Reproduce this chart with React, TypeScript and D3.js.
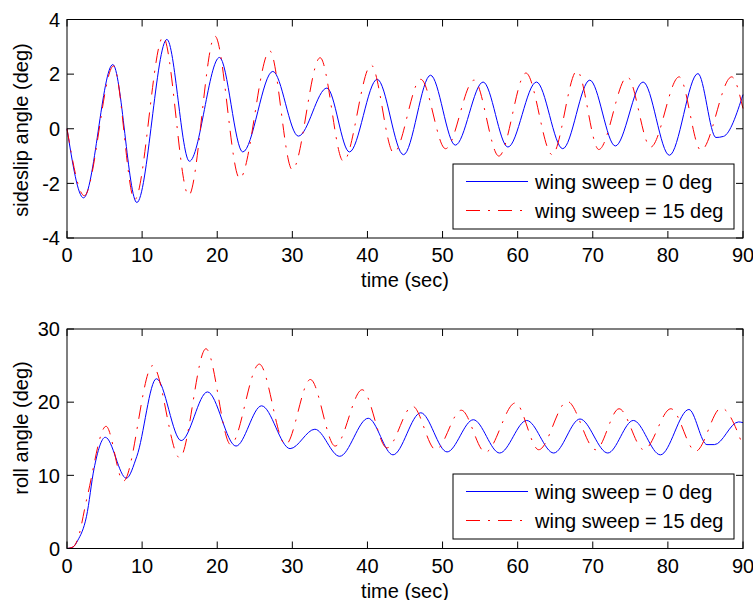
import React from 'react';
import * as d3 from 'd3';

// sideslip angle (deg), wing sweep = 0 / 15 deg, read at peaks and troughs
const betaT0 = [0, 2.2, 6.1, 9.3, 13.3, 16.3, 20.3, 23.4, 27.4, 30.8, 34.6, 37.6, 41.3, 44.8, 48.4, 51.7, 55.4, 58.7, 62.5, 66.0, 69.6, 73.0, 76.7, 80.2, 84.0, 86.4, 87.4, 90];
const beta0 = [0, -2.53, 2.35, -2.7, 3.27, -1.19, 2.61, -0.85, 2.1, -0.27, 1.49, -0.85, 1.81, -0.95, 1.96, -0.6, 1.71, -0.67, 1.71, -0.73, 1.78, -0.63, 1.71, -0.97, 2.02, -0.32, -0.28, 1.25];
const betaT15 = [0, 2.3, 6.2, 9.0, 12.8, 16.2, 19.7, 23.0, 27.0, 30.0, 33.7, 36.8, 40.5, 43.5, 47.1, 50.4, 54.2, 57.5, 61.1, 64.6, 67.9, 70.8, 74.6, 77.7, 81.5, 84.4, 88.5, 90];
const beta15 = [0, -2.45, 2.3, -2.6, 3.36, -2.44, 3.39, -1.82, 2.85, -1.5, 2.6, -1.19, 2.33, -0.88, 1.81, -0.73, 1.78, -1.0, 2.04, -0.95, 2.12, -0.76, 1.9, -0.67, 1.9, -0.79, 1.9, 0.74];

// roll angle (deg)
const phiT0 = [0, 0.8, 1.4, 2.6, 3.6, 5.1, 7.9, 9.3, 11.9, 15.2, 18.7, 22.5, 25.9, 29.7, 33.0, 36.3, 40.1, 43.4, 47.1, 50.6, 54.1, 57.6, 61.2, 64.8, 68.3, 72.0, 75.4, 79.0, 82.8, 85.2, 86.2, 89.4, 90];
const phi0 = [0, 0.2, 1.05, 4.4, 10.9, 15.2, 9.6, 12.6, 23.2, 14.75, 21.4, 14.0, 19.5, 13.65, 16.3, 12.6, 17.8, 12.8, 18.55, 13.2, 17.6, 13.05, 17.5, 13.05, 17.7, 13.05, 17.5, 12.8, 19.0, 14.2, 14.2, 17.3, 17.2];
const phiT15 = [0, 0.8, 1.4, 2.7, 5.2, 7.5, 11.4, 15.0, 18.5, 21.8, 25.6, 29.1, 32.4, 35.7, 39.3, 42.6, 46.0, 49.1, 52.5, 55.7, 59.7, 62.8, 66.6, 70.4, 73.5, 76.8, 80.4, 83.7, 87.1, 90];
const phi15 = [0, 0.2, 1.2, 7.1, 16.7, 9.2, 25.0, 12.4, 27.3, 14.2, 25.2, 14.2, 23.1, 14.0, 21.7, 13.75, 19.45, 13.5, 18.9, 13.15, 19.9, 13.5, 20.1, 13.5, 19.1, 13.5, 19.1, 13.3, 19.2, 14.0];

const timeTicks = [0, 10, 20, 30, 40, 50, 60, 70, 80, 90];
const betaTicks = [-4, -2, 0, 2, 4];
const phiTicks = [0, 10, 20, 30];
const legendLabels = ['wing sweep = 0 deg', 'wing sweep = 15 deg'];

const W = 753;
const H = 600;
const FONT = '"Liberation Sans", Arial, sans-serif';
const FS = 20;
const TICK = 7;
const DASHDOT = '14,8,2,8';

type PanelProps = {
  top: number;
  bottom: number;
  yDomain: [number, number];
  yTicks: number[];
  yLabel: string;
  yLabelCenter: number;
  blue: [number[], number[]];
  red: [number[], number[]];
  legendTop: number;
};

function Panel({ top, bottom, yDomain, yTicks, yLabel, yLabelCenter, blue, red, legendTop }: PanelProps) {
  const left = 67;
  const right = 743;
  const x = d3.scaleLinear().domain([0, 90]).range([left, right]);
  const y = d3.scaleLinear().domain(yDomain).range([bottom, top]);
  const line = d3
    .line<[number, number]>()
    .x((d) => x(d[0]))
    .y((d) => y(d[1]))
    .curve(d3.curveMonotoneX);
  const pts = (s: [number[], number[]]) => s[0].map((t, i) => [t, s[1][i]] as [number, number]);

  const lg = { x0: 453, x1: 734, y0: legendTop, y1: legendTop + 65 };
  const rows = [lg.y0 + 17.5, lg.y0 + 46.5];

  return (
    <g>
      <rect x={left} y={top} width={right - left} height={bottom - top} fill="#fff" />
      <path d={line(pts(blue)) || ''} fill="none" stroke="#0000ff" strokeWidth={1} />
      <path d={line(pts(red)) || ''} fill="none" stroke="#ff0000" strokeWidth={1} strokeDasharray={DASHDOT} />

      {/* ticks inward on all four sides */}
      {timeTicks.map((t) => (
        <g key={'xt' + t}>
          <line x1={x(t)} x2={x(t)} y1={bottom} y2={bottom - TICK} stroke="#000" />
          <line x1={x(t)} x2={x(t)} y1={top} y2={top + TICK} stroke="#000" />
          <text x={x(t)} y={bottom + 24} textAnchor="middle" fontSize={FS} fontFamily={FONT} fill="#000">
            {t}
          </text>
        </g>
      ))}
      {yTicks.map((v) => (
        <g key={'yt' + v}>
          <line x1={left} x2={left + TICK} y1={y(v)} y2={y(v)} stroke="#000" />
          <line x1={right} x2={right - TICK} y1={y(v)} y2={y(v)} stroke="#000" />
          <text x={60} y={y(v)} dy="0.36em" textAnchor="end" fontSize={FS} fontFamily={FONT} fill="#000">
            {v}
          </text>
        </g>
      ))}
      <rect x={left} y={top} width={right - left} height={bottom - top} fill="none" stroke="#000" strokeWidth={1} />

      <text x={(left + right) / 2} y={bottom + 49} textAnchor="middle" fontSize={FS} fontFamily={FONT} fill="#000">
        time (sec)
      </text>
      <text
        transform={`translate(28,${yLabelCenter}) rotate(-90)`}
        textAnchor="middle"
        fontSize={FS}
        fontFamily={FONT}
        fill="#000"
      >
        {yLabel}
      </text>

      {/* legend */}
      <rect x={lg.x0} y={lg.y0} width={lg.x1 - lg.x0} height={lg.y1 - lg.y0} fill="#fff" stroke="#000" strokeWidth={1} />
      <line x1={466} x2={528} y1={rows[0]} y2={rows[0]} stroke="#0000ff" strokeWidth={1} />
      <line x1={466} x2={528} y1={rows[1]} y2={rows[1]} stroke="#ff0000" strokeWidth={1} strokeDasharray={DASHDOT} />
      {legendLabels.map((l, i) => (
        <text key={l} x={535} y={rows[i]} dy="0.36em" fontSize={FS} fontFamily={FONT} fill="#000">
          {l}
        </text>
      ))}
    </g>
  );
}

export default function App() {
  return (
    <svg width={W} height={H} style={{ position: 'absolute', left: 0, top: 0, background: '#fff' }}>
      <rect width={W} height={H} fill="#fff" />
      <Panel
        top={19.5}
        bottom={238}
        yDomain={[-4, 4]}
        yTicks={betaTicks}
        yLabel="sideslip angle (deg)"
        yLabelCenter={130}
        blue={[betaT0, beta0]}
        red={[betaT15, beta15]}
        legendTop={164}
      />
      <Panel
        top={329}
        bottom={548.5}
        yDomain={[0, 30]}
        yTicks={phiTicks}
        yLabel="roll angle (deg)"
        yLabelCenter={428}
        blue={[phiT0, phi0]}
        red={[phiT15, phi15]}
        legendTop={474}
      />
    </svg>
  );
}
